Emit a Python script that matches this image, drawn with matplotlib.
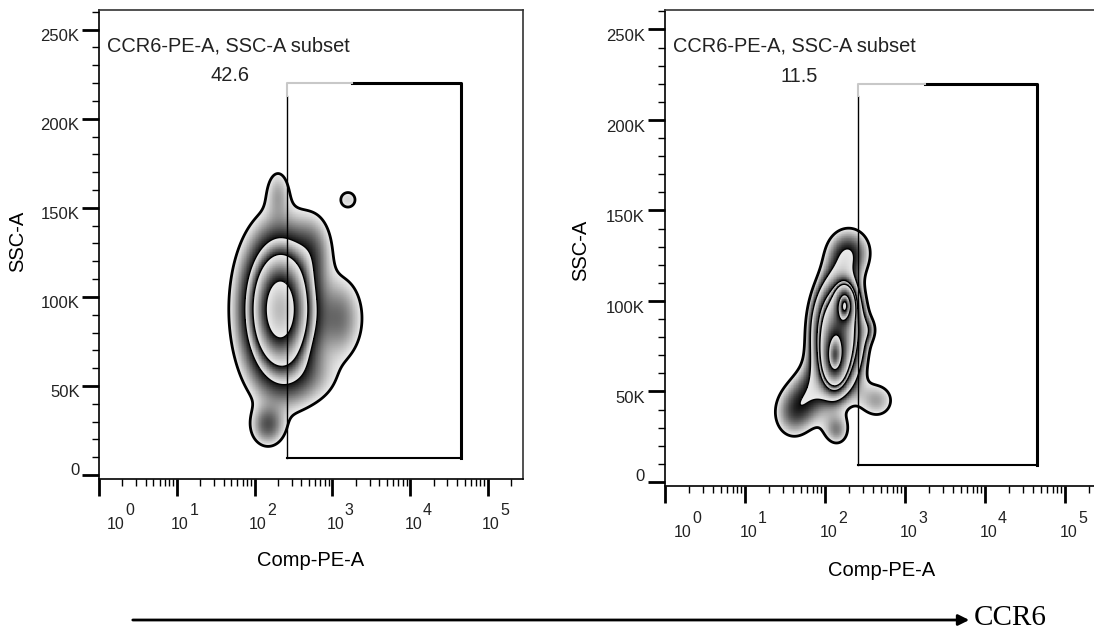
import numpy as np
import matplotlib
matplotlib.use("Agg")
import matplotlib.pyplot as plt
from matplotlib.ticker import LogLocator, MultipleLocator, NullFormatter
from matplotlib.patches import FancyArrowPatch

plt.rcParams['font.family'] = ['Liberation Sans', 'DejaVu Sans']

# Density blobs: centre (log10 Comp-PE-A, SSC-A in K), spread, weight
left_lx = [2.33, 2.30, 2.75, 3.10, 2.65, 2.17, 3.20]
left_y = [93, 158, 127, 88, 55, 28, 154.5]
left_sx = [0.25, 0.10, 0.15, 0.18, 0.28, 0.13, 0.10]
left_sy = [22, 9, 12, 14, 10, 7, 4.5]
left_w = [1.0, 0.06, 0.08, 0.10, 0.06, 0.12, 0.045]
left_levels = [0.03, 0.19, 0.375, 0.77]

right_lx = [2.16, 2.25, 2.12, 2.30, 1.60, 1.85, 2.15, 2.65, 2.55]
right_y = [82, 98, 68, 127, 38, 52, 28, 45, 84]
right_sx = [0.18, 0.07, 0.09, 0.22, 0.21, 0.20, 0.13, 0.20, 0.08]
right_sy = [17, 6, 9, 11, 12, 12, 7, 9, 5]
right_w = [0.45, 0.62, 0.45, 0.07, 0.058, 0.05, 0.05, 0.05, 0.03]
right_levels = [0.035, 0.077, 0.17, 0.24, 0.6, 0.84]

# gate (same on both plots) and its frequency
gate_x = [257, 44700]
gate_y = [9500, 220000]
gate_pct = ['42.6', '11.5']
gate_name = 'CCR6-PE-A, SSC-A subset'

y_ticks = [0, 50000, 100000, 150000, 200000, 250000]
y_tick_labels = ['0', '50K', '100K', '150K', '200K', '250K']
x_decades = [0, 1, 2, 3, 4, 5]


def zebra(ax, lx, yk, sx, sy, w, levels):
    gx = np.linspace(0, 5.45, 700)
    gy = np.linspace(-2, 262, 700)
    GX, GY = np.meshgrid(gx, gy)
    D = np.zeros_like(GX)
    for a, b, c, d, e in zip(lx, yk, sx, sy, w):
        D += e * np.exp(-0.5 * (((GX - a) / c) ** 2 + ((GY - b) / d) ** 2))
    lv = np.log(levels)
    lv = np.append(lv, lv[-1] + (lv[-1] - lv[-2]))
    logD = np.log(np.maximum(D, 1e-12))
    k = np.clip(np.searchsorted(lv, logD, side='right') - 1, 0, len(lv) - 2)
    frac = np.clip((logD - lv[k]) / (lv[k + 1] - lv[k]), 0, 1)
    shade = np.ma.masked_where(D < levels[0], 0.92 - 0.86 * frac ** 1.5)
    X, Y = 10 ** GX, GY * 1000
    ax.pcolormesh(X, Y, shade, cmap='gray', vmin=0, vmax=1, shading='auto', rasterized=True)
    ax.contour(X, Y, D, levels=levels, colors='k',
               linewidths=[2.0] + [0.9] * (len(levels) - 1))


def draw_gate(ax):
    x0, x1 = gate_x
    y0, y1 = gate_y
    split_x, split_y = 10 ** 3.25, 213000
    ax.plot([x0, x0], [y0, split_y], color='k', lw=1)
    ax.plot([x0, x1], [y0, y0], color='k', lw=1.5)
    ax.plot([split_x, x1, x1], [y1, y1, y0], color='k', lw=2.2)
    ax.plot([x0, x0, split_x], [split_y, y1, y1], color='#c8c8c8', lw=1.5)


def panel(rect, sc, lx, yk, sx, sy, w, levels, pct):
    ax = fig.add_axes(rect)
    zebra(ax, lx, yk, sx, sy, w, levels)
    draw_gate(ax)
    ax.set_xscale('log')
    ax.set_xlim(1, 10 ** 5.45)
    ax.set_ylim(-2200, 261000)
    ax.set_xticks([10.0 ** d for d in x_decades])
    ax.xaxis.set_minor_locator(LogLocator(base=10, subs=np.arange(2, 10)))
    ax.xaxis.set_minor_formatter(NullFormatter())
    ax.set_yticks(y_ticks)
    ax.yaxis.set_minor_locator(MultipleLocator(10000))
    ax.tick_params(which='major', direction='out', length=12, width=2,
                   labelbottom=False, labelleft=False)
    ax.tick_params(which='minor', direction='out', length=5, width=1)
    for s in ax.spines.values():
        s.set_linewidth(1.2)
        s.set_color('#333333')
    ax.spines['left'].set_color('k')
    ax.spines['bottom'].set_color('k')

    for v, s in zip(y_ticks, y_tick_labels):
        ax.annotate(s, xy=(0, v), xycoords=('axes fraction', 'data'),
                    xytext=(-14 * sc, (-5 if v else 3.5) * sc), textcoords='offset points',
                    ha='right', va='center', fontsize=12, color='#222222')
    for d in x_decades:
        shift = 10 if d == 0 else 0
        ax.annotate('10', xy=(10.0 ** d, 0), xycoords=('data', 'axes fraction'),
                    xytext=((2.2 + shift) * sc, -32.5 * sc), textcoords='offset points',
                    ha='center', va='center', fontsize=11.5, color='#222222')
        ax.annotate(str(d), xy=(10.0 ** d, 0), xycoords=('data', 'axes fraction'),
                    xytext=((12.2 + shift) * sc, -22.5 * sc), textcoords='offset points',
                    ha='center', va='center', fontsize=11.5, color='#222222')
    ax.text(0.019, 0.923, gate_name, transform=ax.transAxes, ha='left', va='center',
            fontsize=14.4, color='#222222')
    ax.text(0.308, 0.86, pct, transform=ax.transAxes, ha='center', va='center',
            fontsize=14.4, color='#222222')
    return ax


fig = plt.figure(figsize=(10.94, 6.30), dpi=100)
panel([0.0905, 0.2397, 0.3876, 0.7444], 1.0,
      left_lx, left_y, left_sx, left_sy, left_w, left_levels, gate_pct[0])
panel([0.6079, 0.2286, 0.3985, 0.7563], 1.03,
      right_lx, right_y, right_sx, right_sy, right_w, right_levels, gate_pct[1])

fig.text(0.0165, 0.617, 'SSC-A', rotation=90, ha='center', va='center', fontsize=14.5)
fig.text(0.531, 0.603, 'SSC-A', rotation=90, ha='center', va='center', fontsize=14.5)
fig.text(0.284, 0.111, 'Comp-PE-A', ha='center', va='center', fontsize=14.5)
fig.text(0.806, 0.095, 'Comp-PE-A', ha='center', va='center', fontsize=14.5)

fig.add_artist(FancyArrowPatch((130 / 1094, 10 / 630), (972 / 1094, 10 / 630),
                               transform=fig.transFigure, arrowstyle='-|>',
                               mutation_scale=16, lw=2, color='k'))
fig.text(974 / 1094, 12 / 630, 'CCR6', ha='left', va='center', fontsize=21,
         family=['Liberation Serif', 'DejaVu Serif'])

fig.savefig('out.png', dpi=100)
